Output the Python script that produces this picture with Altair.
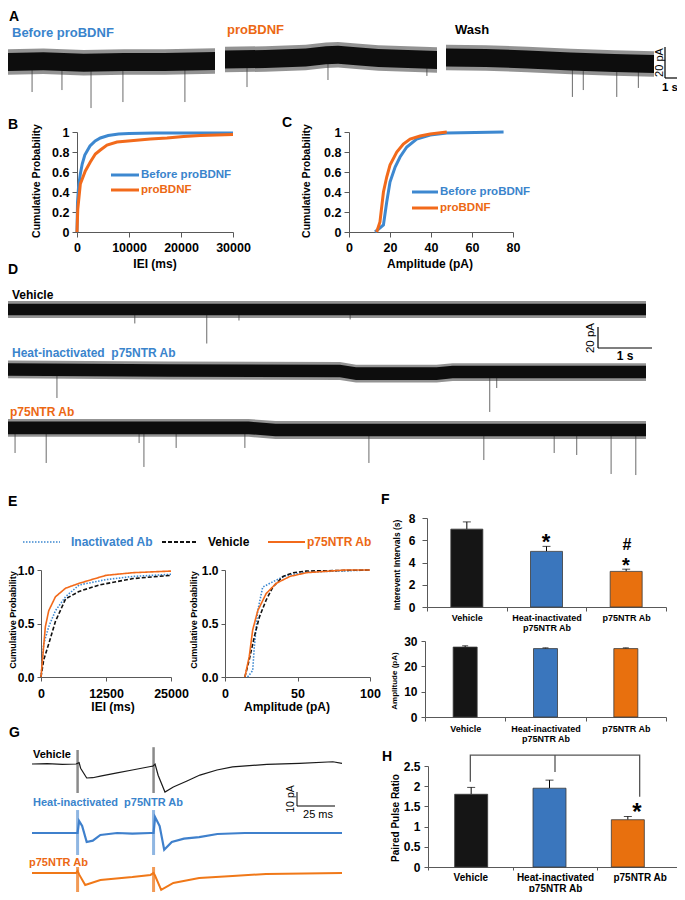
import altair as alt
import pandas as pd

# ======================= DATA =======================
# Panel A: spontaneous current traces (time in s, baseline drift in pA) and events
a_before_t = [0, 2, 4, 6, 8, 10.5]
a_before_c = [0, 0.5, -0.5, 0, 0, 0.7]
a_before_evt_t = [1.44, 2.92, 4.36, 5.94, 9.01]
a_before_evt_pa = [-20, -18.7, -30.7, -26.7, -26.7]
a_pro_t = [0, 2, 4, 5, 5.6, 6.5, 7.6, 10.5]
a_pro_c = [1.7, 2, 3, 4.5, 4.8, 3.8, 2.7, 1.3]
a_pro_evt_t = [1.09, 5.1, 10.0]
a_pro_evt_pa = [-16.7, -12, -9.3]
a_wash_t = [0, 2, 4.1, 6.3, 8.5, 10.5]
a_wash_c = [3, 2.7, 1.7, 0.3, -0.7, -1.3]
a_wash_evt_t = [6.38, 6.93, 8.62, 9.71]
a_wash_evt_pa = [-23.3, -18.7, -23.3, -17.3]

# Panel B: cumulative probability of IEI (ms)
b_before_ms = [0, 100, 300, 640, 1000, 1500, 2500, 3500, 4500, 6000, 8000, 10000, 15000, 30000]
b_before_p = [0, 0.3, 0.45, 0.58, 0.68, 0.77, 0.86, 0.91, 0.94, 0.965, 0.98, 0.985, 0.99, 0.99]
b_pro_ms = [0, 150, 640, 1600, 2560, 3530, 4490, 5770, 7690, 10900, 14100, 17300, 20500, 23700, 30000]
b_pro_p = [0, 0.23, 0.48, 0.61, 0.7, 0.78, 0.82, 0.87, 0.9, 0.915, 0.93, 0.94, 0.955, 0.965, 0.975]

# Panel C: cumulative probability of amplitude (pA)
c_before_pa = [12.7, 16.8, 18.4, 20, 22.5, 24.9, 28.2, 33, 39.6, 47.7, 75.4]
c_before_p = [0, 0.07, 0.3, 0.5, 0.65, 0.75, 0.85, 0.93, 0.97, 0.99, 1.0]
c_pro_pa = [13.5, 15.1, 16.8, 18.4, 20, 23.3, 26.5, 29.8, 34.7, 39.6, 47.7]
c_pro_p = [0, 0.1, 0.4, 0.55, 0.67, 0.8, 0.88, 0.93, 0.96, 0.98, 1.0]

# Panel D: traces (time in s, drift in pA) and events
d_veh_t = [0, 11.9]
d_veh_c = [0, 0]
d_veh_evt_t = [2.38, 3.72, 4.32, 6.39]
d_veh_evt_pa = [-13.3, -32.4, -10.5, -9.5]
d_heat_t = [0, 3, 6.2, 6.5, 8, 8.3, 11.9]
d_heat_c = [1.5, 0.5, 0, -2.5, -2.5, -1, -1]
d_heat_evt_t = [0.93, 8.99, 9.12]
d_heat_evt_pa = [-25.7, -39, -16.2]
d_p75_t = [0, 4.5, 5, 11.9]
d_p75_c = [2, 2, 0, 0]
d_p75_evt_t = [0.15, 0.73, 2.46, 2.55, 3.15, 4.43, 6.74, 8.88, 10.19, 10.61, 11.25, 11.71]
d_p75_evt_pa = [-21.9, -31.4, -12.4, -35.2, -17.1, -17.1, -31.4, -28.6, -21.9, -23.8, -41.9, -42.9]

# Panel E: cumulative probabilities
e_inact_ms = [0, 520, 1490, 2780, 4730, 7320, 12500, 17700, 25000]
e_inact_p = [0, 0.31, 0.47, 0.62, 0.75, 0.86, 0.91, 0.94, 0.96]
e_veh_ms = [0, 520, 1490, 2780, 4730, 7320, 11200, 17700, 25000]
e_veh_p = [0, 0.16, 0.31, 0.52, 0.73, 0.8, 0.86, 0.92, 0.95]
e_p75_ms = [0, 840, 1490, 2780, 4730, 7320, 12500, 17700, 25000]
e_p75_p = [0, 0.47, 0.62, 0.75, 0.83, 0.875, 0.95, 0.975, 0.99]
e_inact_pa = [15.6, 19.1, 20.2, 22.6, 26, 33, 42.3, 56, 100]
e_inact_pp = [0, 0.06, 0.28, 0.62, 0.84, 0.89, 0.95, 0.98, 1.0]
e_veh_pa = [13.7, 16.7, 20.2, 23.7, 28.4, 33, 40, 47, 56, 100]
e_veh_pp = [0, 0.16, 0.375, 0.56, 0.72, 0.84, 0.94, 0.975, 0.99, 1.0]
e_p75_pa = [13.7, 16.7, 19.1, 22.6, 28.4, 35.3, 44.7, 56.3, 83, 100]
e_p75_pp = [0, 0.19, 0.44, 0.62, 0.78, 0.875, 0.94, 0.975, 1.0, 1.0]

# Panels F and H: group means and SEM
groups = ["Vehicle", "Heat-inactivated p75NTR Ab", "p75NTR Ab"]
f_iei_s = [7.0, 5.0, 3.2]
f_iei_sem = [0.65, 0.45, 0.2]
f_amp_pa = [27.6, 27.0, 27.0]
f_amp_sem = [0.5, 0.3, 0.3]
h_ppr = [1.8, 1.95, 1.17]
h_ppr_sem = [0.17, 0.2, 0.08]
h_bracket_g = ["Vehicle", "Vehicle", "p75NTR Ab", "p75NTR Ab",
               "Heat-inactivated p75NTR Ab", "Heat-inactivated p75NTR Ab"]
h_bracket_y = [2.11, 2.77, 2.77, 1.74, 2.35, 2.77]
h_bracket_seg = [0, 0, 0, 0, 1, 1]

# Panel G: evoked paired-pulse responses (time ms, current pA)
g_veh_t = [0, 10, 20, 29, 31, 32, 36, 40, 45, 56, 66, 78, 79.5, 81, 83, 87.5, 93, 102, 110.5, 121.7, 132, 154.6, 176, 198, 204]
g_veh_pa = [0, 0.3, -0.3, 0, 1, -3, -10, -9.8, -8.6, -6.4, -4.3, -1.8, -1.5, 0, -8, -20, -16.4, -12.1, -7.9, -4.3, -2.1, -0.2, 0.5, 1.6, 0.5]
g_heat_t = [0, 29, 30, 31, 33, 36, 40, 45, 56, 66, 78, 80, 81, 84, 87, 92, 100, 110, 122, 140, 204]
g_heat_pa = [0, 0, 0, 8.6, 5, -6.4, -5.5, -1.4, 0, -0.5, 0, 0, 11.4, 5, -12, -6.4, -4, -2.9, -0.7, 0, 0]
g_p75_t = [0, 29, 30, 31, 35, 45, 66, 78, 80, 81, 85, 93, 110, 132, 154, 204]
g_p75_pa = [0, 0, 1.5, -1, -8.6, -5, -2.9, -1.4, 0, -2, -12.1, -7.1, -3.6, -2.1, -0.7, 0]
g_stim_t = [30, 80]
g_veh_art_top = [10, 12]
g_heat_art_top = [16.4, 16.4]
g_p75_art_top = [4.3, 4.3]
g_art_bottom = [-20.7, -20.7]
g_art_bottom_ab = [-15.7, -15.7]

# ======================= STYLE / LAYOUT =======================
W, H = 669, 884
FONT = "Liberation Sans"
BLUE = "#3d88d0"
ORANGE = "#f26a1b"
TXT_BLUE = "#3a84cc"
TXT_ORANGE = "#ec6813"
BAR_COLORS = ["#151515", "#3a76bd", "#e8700e"]
AXC = "#595959"

layers = []


def px(v):
    return v - 8


def py(v):
    return v - 8


def lin(domain, a, b, zero=False):
    return alt.Scale(domain=domain, range=[a, b], nice=False, zero=zero)


def axis_kw(size, pad, tick, **kw):
    d = dict(title=None, grid=False, labelFont=FONT, labelFontSize=size, labelFontWeight="bold",
             labelColor="black", labelPadding=pad, tickSize=tick, domainColor=AXC, tickColor=AXC,
             domainWidth=1, tickWidth=1, labelFlush=False, labelOverlap=False)
    d.update(kw)
    return d


def xaxis(y_page, size=12.5, pad=4, tick=5, **kw):
    return alt.Axis(orient="bottom", offset=py(y_page) - H, **axis_kw(size, pad, tick, **kw))


def band_xaxis(y_page, size, pad, lh, tick=4):
    return xaxis(y_page, size=size, pad=pad, tick=tick, tickBand="extent", labelExpr=LABEL_EXPR,
                 labelLineHeight=lh, labelAngle=0, labelAlign="center", labelBaseline="top")


def yaxis(x_page, size=12.5, pad=3, tick=5, **kw):
    return alt.Axis(orient="left", offset=-px(x_page), **axis_kw(size, pad, tick, **kw))


def text(s, x, y, size=12, color="black", weight="bold", align="left", angle=0, baseline="middle"):
    kw = dict(font=FONT, fontSize=size, color=color, fontWeight=weight, align=align, baseline=baseline)
    if angle:
        kw["angle"] = angle
    layers.append(alt.Chart(pd.DataFrame({"label": [s]})).mark_text(**kw).encode(
        x=alt.value(px(x)), y=alt.value(py(y)), text="label:N"))


def seg(x1, y1, x2, y2, color="black", width=1.0, dash=None):
    kw = dict(color=color, strokeWidth=width)
    if dash:
        kw["strokeDash"] = dash
    layers.append(alt.Chart(pd.DataFrame({"k": [0]})).mark_rule(**kw).encode(
        x=alt.value(px(x1)), x2=alt.value(px(x2)), y=alt.value(py(y1)), y2=alt.value(py(y2))))


def noisy_trace(t, c, ev_t, ev_pa, x0, x1, dur, yc, ppu, inner, outer):
    xs = lin([0, dur], px(x0), px(x1))
    ydom = [-50, 20]
    ys = lin(ydom, py(yc) - ydom[0] * ppu, py(yc) - ydom[1] * ppu)
    ev = pd.DataFrame({"t": ev_t, "a": ev_pa})
    layers.append(alt.Chart(ev).transform_calculate(b="0").mark_rule(color="#6a6a6a", strokeWidth=1).encode(
        x=alt.X("t:Q", scale=xs, axis=None), y=alt.Y("a:Q", scale=ys, axis=None), y2="b:Q"))
    band = pd.DataFrame({"t": t, "c": c})
    for half, col, op in ((outer, "#3a3a3a", 0.55), (inner, "#0d0d0d", 1.0)):
        layers.append(alt.Chart(band).transform_calculate(
            lo=f"datum.c - {half}", hi=f"datum.c + {half}").mark_area(color=col, opacity=op).encode(
            x=alt.X("t:Q", scale=xs, axis=None), y=alt.Y("lo:Q", scale=ys, axis=None), y2="hi:Q"))


def cum_panel(series, xdom, x0, x1, y0, y1, xvals, yvals, yfmt, colors, width, dashes=None,
              xkw=None, ykw=None):
    xs_all, ps_all, ss_all = [], [], []
    for name, xv, pv in series:
        xs_all += xv
        ps_all += pv
        ss_all += [name] * len(xv)
    df = pd.DataFrame({"x": xs_all, "p": ps_all, "s": ss_all})
    names = [s[0] for s in series]
    enc = dict(
        x=alt.X("x:Q", scale=lin(xdom, px(x0), px(x1)),
                axis=xaxis(y0, values=xvals, format="d", **(xkw or {}))),
        y=alt.Y("p:Q", scale=lin([0, 1], py(y0), py(y1)),
                axis=yaxis(x0, values=yvals, format=yfmt, **(ykw or {}))),
        color=alt.Color("s:N", scale=alt.Scale(domain=names, range=colors), legend=None),
    )
    if dashes:
        enc["strokeDash"] = alt.StrokeDash("s:N", scale=alt.Scale(domain=names, range=dashes), legend=None)
    layers.append(alt.Chart(df).mark_line(strokeWidth=width).encode(**enc))


LABEL_EXPR = ("datum.value == 'Heat-inactivated p75NTR Ab' ? "
              "['Heat-inactivated', 'p75NTR Ab'] : datum.label")


def bar_panel(vals, errs, x0, x1, y0, y1, ydom, bar_w, cap_w, x_axis, y_axis):
    df = pd.DataFrame({"g": groups, "v": vals, "e": errs})
    xs = alt.Scale(domain=groups, range=[px(x0), px(x1)], paddingInner=0, paddingOuter=0)
    ys = alt.Scale(domain=ydom, range=[py(y0), py(y1)], nice=False, zero=True)
    base = alt.Chart(df).transform_calculate(top="datum.v + datum.e")
    layers.append(base.mark_rule(color="black", strokeWidth=1).encode(
        x=alt.X("g:N", scale=xs, axis=None), y=alt.Y("v:Q", scale=ys, axis=None), y2="top:Q"))
    layers.append(alt.Chart(df).mark_bar(width=bar_w, stroke="#3a3a3a", strokeWidth=0.8).encode(
        x=alt.X("g:N", scale=xs, axis=x_axis), y=alt.Y("v:Q", scale=ys, axis=y_axis),
        color=alt.Color("g:N", scale=alt.Scale(domain=groups, range=BAR_COLORS), legend=None)))
    layers.append(base.mark_tick(color="black", thickness=1, size=cap_w).encode(
        x=alt.X("g:N", scale=xs, axis=None), y=alt.Y("top:Q", scale=ys, axis=None)))


def evoked(t, pa, art_top, art_bot, yc, color, width, art_color, art_width):
    xs = lin([0, 204], px(32), px(342))
    ydom = [-30, 20]
    ys = lin(ydom, py(yc) - ydom[0] * 1.4, py(yc) - ydom[1] * 1.4)
    art = pd.DataFrame({"t": g_stim_t, "a": art_top, "b": art_bot})
    layers.append(alt.Chart(art).mark_rule(color=art_color, strokeWidth=art_width).encode(
        x=alt.X("t:Q", scale=xs, axis=None), y=alt.Y("a:Q", scale=ys, axis=None), y2="b:Q"))
    df = pd.DataFrame({"t": t, "pa": pa})
    layers.append(alt.Chart(df).mark_line(color=color, strokeWidth=width).encode(
        x=alt.X("t:Q", scale=xs, axis=None), y=alt.Y("pa:Q", scale=ys, axis=None)))


# ======================= PANEL A =======================
text("A", 9, 17, 14)
text("Before proBDNF", 12, 33, 13, TXT_BLUE)
text("proBDNF", 227, 30, 13, TXT_ORANGE)
text("Wash", 455, 30, 13)
noisy_trace(a_before_t, a_before_c, a_before_evt_t, a_before_evt_pa, 3, 215, 10.5, 62, 1.5, 6, 8.5)
noisy_trace(a_pro_t, a_pro_c, a_pro_evt_t, a_pro_evt_pa, 225, 437, 10.5, 62, 1.5, 6, 8.5)
noisy_trace(a_wash_t, a_wash_c, a_wash_evt_t, a_wash_evt_pa, 446, 654, 10.5, 62, 1.5, 6, 8.5)
seg(665, 47, 665, 78, "black", 1.2)
seg(665, 78, 677, 78, "black", 1.2)
text("20 pA", 659.5, 62.5, 11, weight="normal", align="center", angle=270)
text("1 s", 670, 88, 11.5, align="center")

# ======================= PANEL B =======================
text("B", 8, 125, 14)
cum_panel([("Before proBDNF", b_before_ms, b_before_p), ("proBDNF", b_pro_ms, b_pro_p)],
          [0, 30000], 77, 233, 232, 132, [0, 10000, 20000, 30000], [0, 0.2, 0.4, 0.6, 0.8, 1], "~g",
          [BLUE, ORANGE], 3)
text("Cumulative Probability", 37, 181, 10.5, align="center", angle=270)
text("IEI (ms)", 155, 264, 12, align="center")
seg(111, 175, 139, 175, BLUE, 3)
text("Before proBDNF", 141, 175, 11.5, TXT_BLUE)
seg(111, 190, 139, 190, ORANGE, 3)
text("proBDNF", 141, 190, 11.5, TXT_ORANGE)

# ======================= PANEL C =======================
text("C", 282, 123, 14)
cum_panel([("Before proBDNF", c_before_pa, c_before_p), ("proBDNF", c_pro_pa, c_pro_p)],
          [0, 80], 349, 513, 232, 132, [0, 20, 40, 60, 80], [0, 0.2, 0.4, 0.6, 0.8, 1], "~g",
          [BLUE, ORANGE], 3)
text("Cumulative Probability", 307, 181, 10.5, align="center", angle=270)
text("Amplitude (pA)", 430, 264, 12, align="center")
seg(412, 192, 438, 192, BLUE, 3)
text("Before proBDNF", 440, 192, 11.5, TXT_BLUE)
seg(412, 208, 438, 208, ORANGE, 3)
text("proBDNF", 440, 208, 11.5, TXT_ORANGE)

# ======================= PANEL D =======================
text("D", 8, 270, 14)
text("Vehicle", 12, 295, 12)
text("Heat-inactivated\u00a0 p75NTR Ab", 12, 353, 12, TXT_BLUE)
text("p75NTR Ab", 10, 412, 12, TXT_ORANGE)
noisy_trace(d_veh_t, d_veh_c, d_veh_evt_t, d_veh_evt_pa, 7, 646, 11.9, 309.5, 1.05, 5.5, 8)
noisy_trace(d_heat_t, d_heat_c, d_heat_evt_t, d_heat_evt_pa, 7, 646, 11.9, 371, 1.05, 6, 8.5)
noisy_trace(d_p75_t, d_p75_c, d_p75_evt_t, d_p75_evt_pa, 7, 646, 11.9, 430, 1.05, 6, 8.5)
seg(598, 327, 598, 348, "black", 1.2)
seg(598, 348, 652, 348, "black", 1.2)
text("20 pA", 591, 338, 11.5, weight="normal", align="center", angle=270)
text("1 s", 625, 356, 12, align="center")

# ======================= PANEL E =======================
text("E", 8, 502, 14)
seg(23, 542, 60, 542, BLUE, 1.5, [1.5, 1.5])
text("Inactivated Ab", 71, 542, 12, TXT_BLUE)
seg(162, 542, 197, 542, "#111", 1.8, [4, 2])
text("Vehicle", 208, 542, 12)
seg(268, 542, 305, 542, ORANGE, 1.8)
text("p75NTR Ab", 307, 542, 12, TXT_ORANGE)
E_NAMES_DASH = [[1.5, 1.5], [4, 2], [1, 0]]
cum_panel([("Inactivated Ab", e_inact_ms, e_inact_p), ("Vehicle", e_veh_ms, e_veh_p),
           ("p75NTR Ab", e_p75_ms, e_p75_p)],
          [0, 25000], 41, 171, 677, 570, [0, 12500, 25000], [0, 0.5, 1], ".1f",
          [BLUE, "#111", ORANGE], 1.6, dashes=E_NAMES_DASH,
          xkw=dict(pad=6, tick=4), ykw=dict(pad=3, tick=4, size=12))
cum_panel([("Inactivated Ab", e_inact_pa, e_inact_pp), ("Vehicle", e_veh_pa, e_veh_pp),
           ("p75NTR Ab", e_p75_pa, e_p75_pp)],
          [0, 100], 225, 370, 677, 570, [0, 50, 100], [0, 0.5, 1], ".1f",
          [BLUE, "#111", ORANGE], 1.6, dashes=E_NAMES_DASH,
          xkw=dict(pad=6, tick=4), ykw=dict(pad=3, tick=4, size=12))
text("Cumulative Probability", 12.5, 620, 9, align="center", angle=270)
text("Cumulative Probability", 194, 620, 9, align="center", angle=270)
text("IEI (ms)", 113, 707, 12, align="center")
text("Amplitude (pA)", 287, 707, 12, align="center")

# ======================= PANEL F =======================
text("F", 381, 500, 14)
bar_panel(f_iei_s, f_iei_sem, 427, 666, 607, 518, [0, 8], 32, 8,
          band_xaxis(607, 9, 2, 10),
          yaxis(427, size=12, pad=7, tick=5, values=[0, 2, 4, 6, 8]))
text("Interevent Intervals (s)", 397, 565, 8.5, align="center", angle=270)
text("*", 546, 549, 22, align="center", baseline="alphabetic")
text("#", 627, 550, 16, align="center", baseline="alphabetic")
text("*", 626, 572, 20, align="center", baseline="alphabetic")

bar_panel(f_amp_pa, f_amp_sem, 425, 666, 717, 641, [0, 30], 24, 6,
          band_xaxis(717, 9, 3, 10),
          yaxis(425, size=12, pad=4, tick=4, values=[0, 10, 20, 30]))
text("Amplitude (pA)", 395, 681, 8, align="center", angle=270)

# ======================= PANEL G =======================
text("G", 9, 733, 14)
text("Vehicle", 33, 755, 11)
text("Heat-inactivated\u00a0 p75NTR Ab", 33, 803, 11, TXT_BLUE)
text("p75NTR Ab", 29, 863, 11, TXT_ORANGE)
evoked(g_veh_t, g_veh_pa, g_veh_art_top, g_art_bottom, 764, "#1a1a1a", 1.2, "#8a8a8a", 2.5)
evoked(g_heat_t, g_heat_pa, g_heat_art_top, g_art_bottom_ab, 833, "#3f80cc", 2.2, "#8fb6e2", 3)
evoked(g_p75_t, g_p75_pa, g_p75_art_top, g_art_bottom_ab, 873, "#f07818", 2.0, "#f29a55", 3)
seg(297, 792, 297, 806, "black", 1)
seg(297, 806, 335, 806, "black", 1)
text("10 pA", 291, 799, 10.5, weight="normal", align="center", angle=270)
text("25 ms", 318, 815, 11, weight="normal", align="center")

# ======================= PANEL H =======================
H_AX = 867
text("H", 382, 757, 14)
bar_panel(h_ppr, h_ppr_sem, 432, 667, H_AX, 766, [0, 2.5], 33, 8, None,
          yaxis(428, size=12, pad=4, tick=4, values=[0, 0.5, 1, 1.5, 2, 2.5], format="~g"))
br = pd.DataFrame({"g": h_bracket_g, "y": h_bracket_y, "seg": h_bracket_seg,
                   "i": list(range(len(h_bracket_g)))})
layers.append(alt.Chart(br).mark_line(color="#555", strokeWidth=1.3).encode(
    x=alt.X("g:N", scale=alt.Scale(domain=groups, range=[px(428), px(682)], paddingInner=0, paddingOuter=0),
            axis=band_xaxis(H_AX, 10, 2, 11, tick=3)),
    y=alt.Y("y:Q", scale=lin([0, 2.5], py(H_AX), py(766)), axis=None),
    detail="seg:N", order="i:Q"))
text("Paired Pulse Ratio", 396, 818, 10, align="center", angle=270)
text("*", 637, 820, 24, align="center", baseline="alphabetic")

chart = (alt.layer(*layers)
         .resolve_scale(x="independent", y="independent", color="independent", strokeDash="independent")
         .properties(width=W, height=H, padding=0, autosize=alt.AutoSizeParams(type="none"))
         .configure_view(stroke=None))

chart.save("out.html", embed_options={"renderer": "svg", "actions": False})
